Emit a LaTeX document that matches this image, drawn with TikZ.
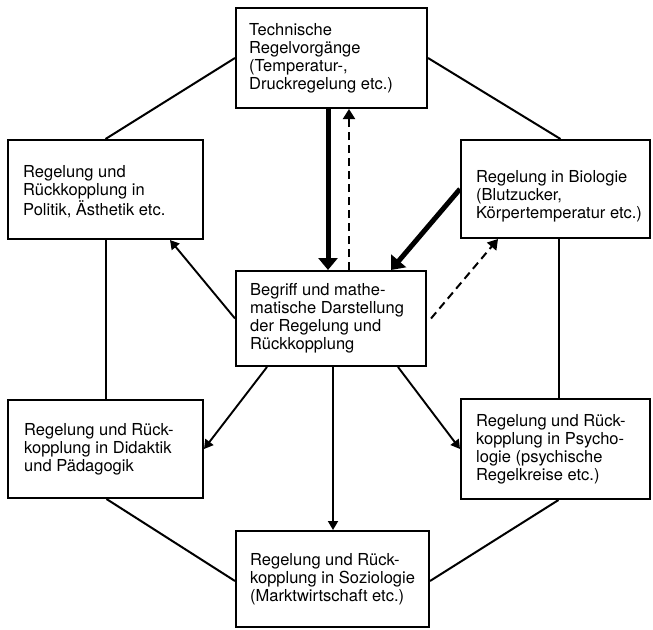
\documentclass[tikz,border=0pt]{standalone}
\usepackage{fontspec}
\setmainfont{TeX Gyre Heros}
\usetikzlibrary{arrows.meta}
\begin{document}
\begin{tikzpicture}[x=1pt,y=-1pt,
  box/.style={draw, line width=2pt, rectangle, inner sep=0pt},
  txt/.style={anchor=west, align=left, inner sep=0pt, font=\fontsize{16.5}{18}\selectfont},
  conn/.style={line width=2pt},
  arr/.style={line width=1.9pt, -{Triangle[length=9pt,width=10pt]}},
  thickarr/.style={line width=5pt, -{Triangle[length=12pt,width=19pt]}},
  dasharr/.style={line width=2pt, dash pattern=on 8pt off 5pt, -{Triangle[length=10pt,width=12pt]}}]
\useasboundingbox (0,0) rectangle (653,629);
% boxes
\node[box, minimum width=191pt, minimum height=100pt] (T) at (331.5,58) {};
\node[txt] (Tt) at ([xshift=14pt]T.west) {Technische\\Regelvorgänge\\(Temperatur-,\\Druckregelung etc.)};
\node[box, minimum width=195pt, minimum height=99pt] (LU) at (105.5,189.5) {};
\node[txt] (LUt) at ([xshift=16pt,yshift=-2pt]LU.west) {Regelung und\\Rückkopplung in\\Politik, Ästhetik etc.};
\node[box, minimum width=189pt, minimum height=98pt] (RU) at (555.5,189) {};
\node[txt] (RUt) at ([xshift=16pt,yshift=-7pt]RU.west) {Regelung in Biologie\\(Blutzucker,\\Körpertemperatur etc.)};
\node[box, minimum width=190pt, minimum height=95pt] (C) at (331,318.5) {};
\node[txt] (Ct) at ([xshift=15pt]C.west) {Begriff und mathe-\\matische Darstellung\\der Regelung und\\Rückkopplung};
\node[box, minimum width=195pt, minimum height=98pt] (LL) at (105.5,449) {};
\node[txt] (LLt) at ([xshift=17pt]LL.west) {Regelung und Rück-\\kopplung in Didaktik\\und Pädagogik};
\node[box, minimum width=189pt, minimum height=100pt] (RL) at (555.5,449) {};
\node[txt] (RLt) at ([xshift=16pt]RL.west) {Regelung und Rück-\\kopplung in Psycho-\\logie (psychische\\Regelkreise etc.)};
\node[box, minimum width=193pt, minimum height=96pt] (B) at (332.5,579) {};
\node[txt] (Bt) at ([xshift=15pt]B.west) {Regelung und Rück-\\kopplung in Soziologie\\(Marktwirtschaft etc.)};
% outer ring
\draw[conn] (T.west) -- (LU.north);
\draw[conn] (T.east) -- ([xshift=5pt]RU.north);
\draw[conn] (LU.south) -- (LL.north);
\draw[conn] ([xshift=3pt]RU.south) -- ([xshift=3pt]RL.north);
\draw[conn] ([xshift=1pt]LL.south) -- ([yshift=-2pt]B.west);
\draw[conn] ([xshift=3pt]RL.south) -- ([yshift=-2pt]B.east);
% arrows
\draw[thickarr] ([xshift=-3.5pt]T.south) -- ([xshift=-3pt]C.north);
\draw[dasharr] ([xshift=18pt]C.north) -- ([xshift=17.5pt]T.south);
\draw[thickarr] (RU.west) -- ([xshift=60pt]C.north);
\draw[dasharr] ([xshift=4pt]C.east) -- ([xshift=-57.5pt]RU.south);
\draw[arr] (C.west) -- ([xshift=64.5pt]LU.south);
\draw[arr] ([xshift=-64pt]C.south) -- (LL.east);
\draw[arr] ([xshift=2pt]C.south) -- ([xshift=0.5pt]B.north);
\draw[arr] ([xshift=67pt]C.south) -- (RL.west);
\end{tikzpicture}
\end{document}
